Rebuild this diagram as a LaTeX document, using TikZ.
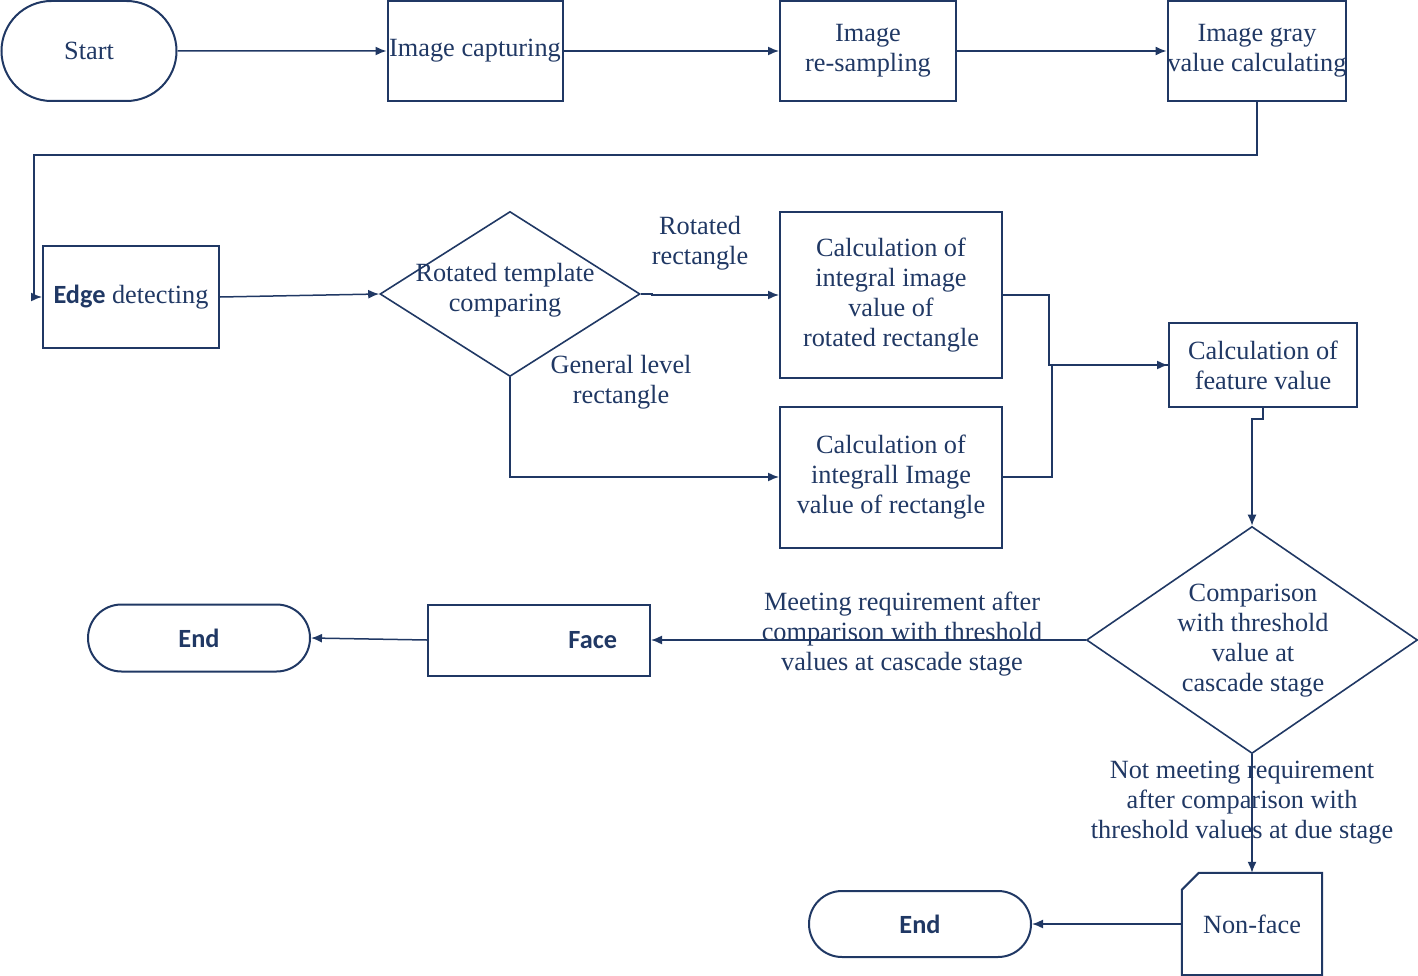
\documentclass[tikz,border=0pt]{standalone}
\usepackage{fontspec}
\setmainfont{Liberation Serif}
\newfontfamily\labelsans{Carlito}
\usepackage{tikz}
\usetikzlibrary{calc}
\usetikzlibrary{shapes}
\usetikzlibrary{arrows.meta}
\definecolor{navy}{RGB}{32,56,100}

\begin{document}
\begin{tikzpicture}[x=1pt,y=-1pt]
            \tikzstyle{every node} = [font=\fontsize{26.3}{30}\selectfont, text=navy, align=center]
            \tikzstyle{process} = [draw=navy, line width=2pt, rectangle, inner sep=0pt]
            \tikzstyle{terminal} = [draw=navy, line width=2pt, rounded rectangle, inner sep=0pt]
            \tikzstyle{decision} = [draw=navy, line width=1.6pt, diamond, inner sep=0pt]
            \tikzstyle{flow} = [draw=navy, line width=1.5pt, -{Latex[length=11pt,width=9pt]}]
            \tikzstyle{link} = [draw=navy, line width=1.5pt]
            \useasboundingbox (0,0) rectangle (1418,976);

            % top row
            \node (start) [terminal, minimum width=175pt, minimum height=100pt] at (89,51) {Start};
            \node (capture) [process, minimum width=175pt, minimum height=100pt] at (475,51) {Image capturing};
            \node (resample) [process, minimum width=176pt, minimum height=100pt] at (868,51) {Image\\re-sampling};
            \node (gray) [process, minimum width=176pt, minimum height=100pt] at (1257,51) {Image gray\\value calculating};
            \draw (start) edge[flow] (capture);
            \draw (capture) edge[flow] (resample);
            \draw (resample) edge[flow] (gray);

            \node (edgedet) [process, minimum width=176pt, minimum height=101pt] at (131,297) {{\labelsans\bfseries Edge} detecting};
            \coordinate (turn) at (34,155);
            \draw[flow] (gray.south) |- (turn) |- (edgedet.west);

            % template comparing
            \node (rtc) [decision, minimum width=260pt, minimum height=165pt] at (510,294) {};
            \node (rtctext) at (505,290) {Rotated template\\comparing};
            \draw (edgedet.east) edge[flow] (rtc.west);

            \node (rot) [process, minimum width=222pt, minimum height=165pt] at (891,295) {Calculation of\\integral image\\value of\\rotated rectangle};
            \node (gen) [process, minimum width=222pt, minimum height=141pt] at (891,477) {Calculation of\\integrall Image\\value of rectangle};
            \node (rotlabel) at (700,243) {Rotated\\rectangle};
            \node (genlabel) at (621,382) {General level\\rectangle};
            \draw[flow] (rtc.east) -- ++(11,0) |- (rot.west);
            \draw[flow] (rtc.south) |- (gen.west);

            \node (feat) [process, minimum width=188pt, minimum height=84pt] at (1263,365) {Calculation of\\feature value};
            \draw[flow] (rot.east) -- ++(46,0) |- (feat.west);
            \draw[link] (gen.east) -- ++(49,0) |- (feat.west);

            % cascade comparison
            \node (cmp) [decision, minimum width=331pt, minimum height=227pt] at (1252,640) {};
            \node (cmptext) at (1253,641) {Comparison\\with threshold\\value at\\cascade stage};
            \draw[flow] (feat.south) -- ++(0,11) -| (cmp.north);

            \node (face) [process, minimum width=222pt, minimum height=71pt, inner xsep=33pt, text width=156pt, align=right] at (539,640) {{\labelsans\bfseries Face}};
            \node (end1) [terminal, minimum width=222pt, minimum height=67pt] at (199,638) {{\labelsans\bfseries End}};
            \node (meetlabel) at (902,634) {Meeting requirement after\\comparison with threshold\\values at cascade stage};
            \draw (cmp.west) edge[flow] (face.east);
            \draw (face.west) edge[flow] (end1.east);

            \node (nonface) [minimum width=140pt, minimum height=102pt, inner sep=0pt] at (1252,924) {Non-face};
            \draw[navy, line width=2pt] ($(nonface.north west)+(0,17)$) -- ($(nonface.north west)+(17,0)$) -- (nonface.north east) -- (nonface.south east) -- (nonface.south west) -- cycle;
            \node (end2) [terminal, minimum width=222pt, minimum height=66pt] at (920,924) {{\labelsans\bfseries End}};
            \node (notlabel) at (1242,803) {Not meeting requirement\\after comparison with\\threshold values at due stage};
            \draw (cmp.south) edge[flow] (nonface.north);
            \draw (nonface.west) edge[flow] (end2.east);
        \end{tikzpicture}
\end{document}
